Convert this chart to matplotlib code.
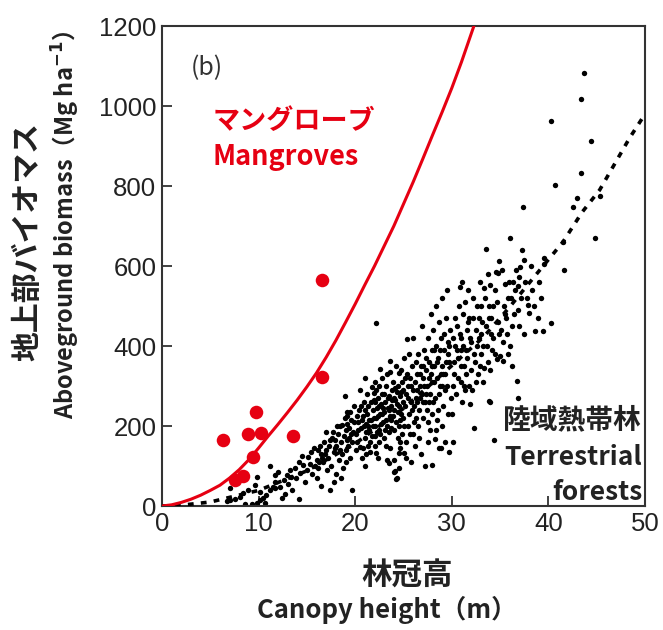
import matplotlib.pyplot as plt

plt.rcParams['font.family'] = ['Noto Sans CJK JP', 'DejaVu Sans']

# Mangrove plots (red circles)
mangrove_h = [16.6, 16.6, 9.7, 6.3, 8.9, 10.2, 13.6, 9.45, 8.4, 7.6]
mangrove_agb = [565, 323, 236, 165, 179, 182, 175, 122, 76, 65]

# Mangrove fitted curve
mcurve_h = [0, 1, 2, 3, 4, 5, 6, 7, 8, 9, 10, 11, 12, 13, 14, 15, 16, 17, 18, 19, 20,
            21, 22, 23, 24, 25, 26, 27, 28, 29, 30, 31, 32, 32.5]
mcurve_agb = [0, 3, 9, 17, 27, 39, 52, 70, 91, 116, 145, 175, 204, 234, 265, 298, 333, 372,
              414, 459, 505, 553, 600, 650, 700, 755, 810, 868, 927, 985, 1045, 1110, 1180, 1215]

# Terrestrial forest fitted curve
tcurve_h = [0, 2, 5, 10, 15, 20, 25, 30, 33.3, 36, 38.6, 41.5, 43.5, 45.3, 48.4, 50]
tcurve_agb = [0, 2, 10, 39, 88, 156, 244, 351, 423, 498, 575, 660, 735, 790, 920, 980]

# Terrestrial forest plots (black dots), read band by band
terrestrial = [
    # 5-10 m
    (6.7, 13), (7.0, 15), (7.6, 17), (8.1, 22), (8.4, 32), (8.9, 40), (9.6, 52),
    (7.0, 44), (9.8, 73), (9.8, 8), (10.1, 15), (10.1, 36), (8.6, 6), (9.3, 4),
    # 10-15 m
    (10.7, 7), (11.2, 40), (11.7, 44), (12.2, 48), (12.6, 65), (11.2, 100), (11.7, 78),
    (11.7, 61), (11.5, 48), (13.3, 90), (12.9, 78), (13.4, 73), (13.9, 69), (14.3, 82),
    (14.6, 103), (15.0, 90), (12.4, 19), (14.2, 17), (10.8, 28), (13.0, 55), (13.8, 95),
    (14.2, 110), (12.0, 85), (10.5, 20), (14.8, 60), (13.5, 40), (12.7, 30), (14.5, 125),
    # 15-20 m
    (15.1, 123), (16.0, 115), (16.7, 111), (15.7, 144), (17.6, 169), (17.9, 165), (18.6, 203),
    (18.9, 276), (19.1, 236), (19.5, 236), (17.4, 40), (19.7, 40), (15.5, 80), (16.2, 95),
    (16.5, 130), (17.0, 140), (17.2, 120), (17.8, 135), (18.0, 150), (18.2, 180), (18.5, 160),
    (18.8, 175), (19.0, 190), (19.2, 205), (19.4, 170), (19.6, 215), (19.8, 185), (16.8, 160),
    (17.5, 100), (18.3, 115), (19.0, 140), (19.5, 120), (15.3, 105), (16.4, 150), (18.1, 200),
    (19.9, 250), (17.0, 185), (19.3, 150), (18.7, 95), (16.0, 70), (17.3, 150), (18.4, 140),
    (19.1, 165), (19.7, 160), (16.6, 120), (17.7, 185), (18.9, 220), (19.4, 195),
    (15.8, 100), (16.3, 110), (16.9, 130), (17.4, 165), (17.9, 145), (18.4, 200), (18.6, 130),
    (19.2, 225), (19.6, 180), (19.9, 210), (15.4, 135), (16.1, 140), (17.1, 90), (18.0, 80),
    (19.0, 110), (17.8, 60), (16.5, 50), (18.5, 70),
    # 20-25 m
    (20.5, 148), (21.5, 136), (21.7, 298), (21.9, 282), (22.2, 457), (22.6, 342), (23.6, 336),
    (24.5, 332), (23.6, 363), (25.1, 369), (23.6, 144), (24.6, 161), (24.5, 132), (23.3, 115),
    (24.0, 84), (24.3, 69), (22.2, 132), (24.2, 67), (24.5, 94), (24.1, 87), (23.5, 108),
    (24.0, 115), (25.3, 119), (25.0, 132),
    (20.1, 180), (20.3, 210), (20.4, 240), (20.6, 195), (20.8, 225), (20.9, 260), (21.0, 170),
    (21.1, 205), (21.2, 230), (21.3, 250), (21.4, 190), (21.6, 215), (21.8, 240), (21.9, 265),
    (22.0, 175), (22.1, 200), (22.2, 220), (22.3, 245), (22.4, 270), (22.5, 190), (22.6, 230),
    (22.7, 255), (22.8, 280), (22.9, 210), (23.0, 235), (23.1, 260), (23.2, 300), (23.3, 200),
    (23.4, 245), (23.5, 275), (23.6, 225), (23.7, 250), (23.8, 290), (23.9, 310), (24.0, 240),
    (24.1, 265), (24.2, 210), (24.3, 285), (24.4, 300), (24.5, 250), (24.6, 275), (24.7, 230),
    (24.8, 310), (24.9, 260), (20.2, 160), (20.7, 120), (21.0, 100), (21.5, 160), (22.0, 150),
    (22.5, 160), (23.0, 170), (23.5, 185), (24.0, 190), (24.5, 200), (24.8, 180), (21.2, 280),
    (22.0, 310), (22.8, 320), (23.3, 330), (24.2, 350), (20.5, 290), (21.0, 320), (22.5, 300),
    (24.7, 340), (23.9, 225), (22.3, 185), (21.7, 175), (20.8, 145), (24.4, 170),
    (20.2, 225), (20.6, 250), (21.1, 185), (21.4, 215), (21.8, 200), (22.1, 260), (22.4, 225),
    (22.7, 205), (23.0, 280), (23.2, 215), (23.5, 240), (23.8, 265), (24.1, 295), (24.4, 235),
    (24.7, 285), (21.3, 150), (22.6, 180), (23.7, 195), (24.9, 220), (20.9, 200), (22.9, 245),
    (20.3, 190), (20.7, 215), (21.0, 240), (21.3, 200), (21.6, 260), (21.9, 220), (22.2, 290),
    (22.5, 250), (22.8, 230), (23.1, 190), (23.4, 270), (23.7, 215), (24.0, 270), (24.3, 255),
    (24.6, 215), (24.9, 290), (20.1, 140), (21.1, 130), (22.4, 120), (23.2, 150), (24.6, 145),
    # 25-30 m
    (25.4, 417), (27.9, 102), (28.9, 145), (29.3, 161), (30.1, 159), (29.7, 134), (28.7, 146),
    (28.3, 167), (27.5, 161),
    (25.2, 250), (25.3, 280), (25.5, 300), (25.6, 230), (25.7, 320), (25.8, 260), (25.9, 350),
    (26.0, 290), (26.1, 210), (26.2, 310), (26.3, 270), (26.4, 330), (26.5, 380), (26.6, 240),
    (26.7, 300), (26.8, 350), (26.9, 280), (27.0, 320), (27.1, 390), (27.2, 260), (27.3, 340),
    (27.4, 300), (27.5, 420), (27.6, 360), (27.7, 280), (27.8, 330), (27.9, 390), (28.0, 310),
    (28.1, 440), (28.2, 350), (28.3, 270), (28.4, 400), (28.5, 320), (28.6, 370), (28.7, 460),
    (28.8, 300), (28.9, 420), (29.0, 350), (29.1, 250), (29.2, 390), (29.3, 330), (29.4, 470),
    (29.5, 300), (29.6, 410), (29.7, 360), (29.8, 440), (29.9, 270), (25.5, 200), (26.0, 180),
    (26.5, 200), (27.0, 220), (27.5, 210), (28.0, 230), (28.5, 215), (29.0, 200), (25.3, 160),
    (26.2, 150), (26.8, 130), (25.8, 110), (27.2, 100), (26.0, 420), (26.9, 450), (27.8, 480),
    (28.4, 500), (29.0, 520), (25.6, 380), (29.5, 540), (28.6, 240), (27.4, 240), (26.4, 260),
    (29.3, 290), (25.4, 330), (26.3, 360), (27.1, 300), (27.6, 260), (28.2, 390), (28.9, 330),
    (29.6, 380), (25.9, 240), (26.7, 330), (27.3, 370), (28.0, 350), (28.7, 280), (29.2, 430),
    (25.2, 320), (25.5, 270), (25.8, 300), (26.1, 250), (26.4, 290), (26.7, 270), (27.0, 350),
    (27.3, 280), (27.6, 320), (27.9, 350), (28.2, 310), (28.5, 360), (28.8, 390), (29.1, 330),
    (29.4, 360), (29.7, 400), (25.7, 180), (26.6, 170), (27.7, 190), (28.4, 190), (29.6, 230),
    (25.1, 200), (26.3, 220), (27.0, 260), (28.1, 260), (29.0, 300),
    # 30-35 m
    (30.8, 547), (31.7, 540), (32.3, 196), (34.4, 165), (31.9, 255), (33.9, 262), (33.3, 344),
    (33.2, 310), (34.7, 367), (35.0, 375), (34.0, 261), (33.5, 642), (34.9, 612), (34.6, 586),
    (34.8, 583), (34.0, 552), (35.5, 555),
    (30.2, 330), (30.3, 400), (30.5, 450), (30.6, 370), (30.9, 310), (31.0, 420), (31.2, 480),
    (31.3, 350), (31.5, 390), (31.6, 440), (31.8, 300), (32.0, 410), (32.2, 470), (32.4, 360),
    (32.6, 500), (32.8, 420), (33.0, 380), (33.1, 460), (33.4, 520), (33.6, 400), (33.8, 470),
    (34.1, 430), (34.3, 500), (34.5, 540), (34.8, 460), (30.4, 280), (31.1, 260), (32.1, 290),
    (32.7, 330), (30.7, 500), (31.4, 510), (32.9, 560), (33.7, 580), (34.2, 390), (30.0, 230),
    (30.2, 360), (30.9, 390), (31.5, 330), (32.5, 440), (33.0, 500), (31.8, 470),
    (30.1, 420), (30.3, 470), (30.6, 320), (30.8, 430), (31.0, 350), (31.2, 400), (31.4, 290),
    (31.6, 370), (31.9, 420), (32.0, 340), (32.3, 380), (32.5, 310), (32.8, 470), (33.0, 430),
    (33.2, 400), (33.5, 450), (33.7, 360), (33.9, 500), (34.1, 470), (34.3, 420), (34.5, 380),
    (34.7, 510), (34.9, 430), (32.2, 520), (31.1, 560), (33.3, 545), (30.5, 390), (31.7, 460),
    (32.6, 400), (34.0, 340), (31.3, 300), (30.1, 300), (32.9, 350),
    # 35-40 m
    (36.7, 312), (36.8, 271), (37.9, 502), (38.0, 483), (38.6, 438), (39.4, 438), (40.3, 457),
    (36.0, 669), (37.4, 747), (37.5, 615), (37.1, 598), (39.5, 619), (39.5, 605), (37.0, 573),
    (35.3, 362), (35.5, 480), (35.8, 520), (36.2, 450), (36.5, 540), (36.0, 400), (36.3, 560),
    (35.7, 430), (37.2, 520), (36.9, 490), (38.3, 540), (35.2, 590), (39.0, 560),
    (35.1, 440), (35.4, 500), (35.6, 470), (35.9, 560), (36.1, 520), (36.4, 480), (36.6, 590),
    (36.8, 550), (37.3, 640), (37.6, 560), (37.8, 520), (38.2, 600), (38.5, 500), (38.9, 470),
    (39.2, 520), (35.3, 410), (35.8, 380), (36.2, 350), (37.0, 450), (37.5, 430),
    # > 40 m
    (43.7, 1083), (43.4, 1017), (40.3, 963), (44.4, 913), (43.4, 833), (40.7, 802),
    (43.0, 769), (45.3, 776), (42.5, 747), (44.8, 669), (41.5, 661), (41.6, 590),
]
terr_h = [p[0] for p in terrestrial]
terr_agb = [p[1] for p in terrestrial]

red = '#e60012'
ink = '#222222'

fig = plt.figure(figsize=(6.63, 6.3), dpi=100)
ax = fig.add_axes([0.2443, 0.1968, 0.7286, 0.7619])

ax.scatter(terr_h, terr_agb, s=15, color='black', linewidths=0, zorder=2)
ax.plot(tcurve_h, tcurve_agb, color='black', lw=2.6, linestyle=(0, (1.6, 2.0)), zorder=3)
ax.plot(mcurve_h, mcurve_agb, color=red, lw=2.2, zorder=4)
ax.scatter(mangrove_h, mangrove_agb, s=95, color=red, linewidths=0, zorder=5)

ax.set_xlim(0, 50)
ax.set_ylim(0, 1200)
ax.set_xticks(range(0, 51, 10))
ax.set_yticks(range(0, 1201, 200))
ax.tick_params(direction='in', length=7, width=1.3, color='#333333', labelsize=18.5, pad=4)
for lab in ax.get_xticklabels() + ax.get_yticklabels():
    lab.set_fontfamily('Liberation Sans')
    lab.set_color(ink)
for sp in ax.spines.values():
    sp.set_linewidth(1.5)
    sp.set_color('#333333')

ax.text(3.0, 1095, '(b)', fontsize=18, color='#333333', va='center', ha='left')
ax.text(5.2, 962, 'マングローブ', fontsize=19.5, fontweight='bold', color=red, va='center')
ax.text(5.2, 872, 'Mangroves', fontsize=19.5, fontweight='bold', color=red, va='center')
ax.text(49.7, 215, '陸域熱帯林', fontsize=20, fontweight='bold', color=ink, va='center', ha='right')
ax.text(49.7, 122, 'Terrestrial', fontsize=19, fontweight='bold', color=ink, va='center', ha='right')
ax.text(49.7, 35, 'forests', fontsize=19, fontweight='bold', color=ink, va='center', ha='right')

fig.text(0.042, 0.617, '地上部バイオマス', rotation=90, fontsize=21.5, fontweight='bold',
         color=ink, ha='center', va='center')
fig.text(0.100, 0.643, 'Aboveground biomass（Mg ha$^{\\mathbf{-1}}$）', rotation=90, fontsize=17,
         fontweight='bold', color=ink, ha='center', va='center')
fig.text(0.614, 0.087, '林冠高', fontsize=22, fontweight='bold', color=ink, ha='center', va='center')
fig.text(0.583, 0.032, 'Canopy height（m）', fontsize=18.5, fontweight='bold', color=ink,
         ha='center', va='center')

fig.savefig('out.png', dpi=100)
